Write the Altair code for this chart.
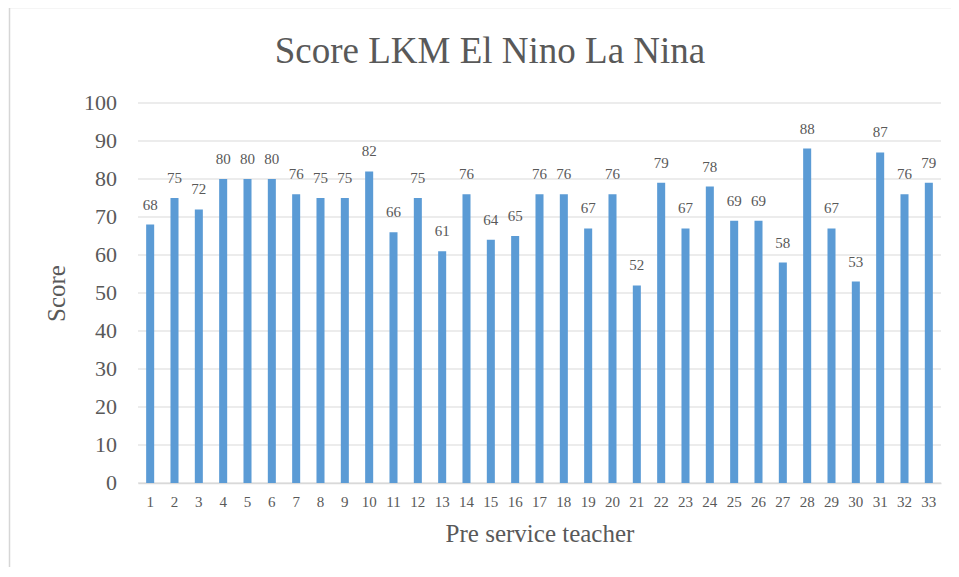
import altair as alt
import pandas as pd

teachers = list(range(1, 34))
scores = [68, 75, 72, 80, 80, 80, 76, 75, 75, 82, 66, 75, 61, 76, 64, 65, 76, 76, 67, 76,
          52, 79, 67, 78, 69, 69, 58, 88, 67, 53, 87, 76, 79]
title_text = "Score LKM El Nino La Nina"
x_title = "Pre service teacher"
y_title = "Score"
y_ticks = list(range(0, 101, 10))

df = pd.DataFrame({"teacher": teachers, "score": scores})
tick_df = pd.DataFrame({"tick": y_ticks})
FONT = "Liberation Serif"
TXT = "#595959"
W, H = 803, 380

x_enc = alt.X("teacher:O", sort=teachers,
              scale=alt.Scale(paddingInner=0.67, paddingOuter=0.335),
              axis=alt.Axis(title=x_title, labelAngle=0, labelFontSize=15, labelPadding=11,
                            titleFontSize=25, titlePadding=12, ticks=False,
                            domainColor="#d9d9d9", domainWidth=1.5, grid=False,
                            labelFont=FONT, titleFont=FONT, labelColor=TXT, titleColor=TXT,
                            titleFontWeight="normal"))
y_scale = alt.Scale(domain=[0, 100], nice=False)
y_enc = alt.Y("score:Q", scale=y_scale,
              axis=alt.Axis(title=y_title, labels=False, grid=False, ticks=False, domain=False,
                            titleFontSize=25, titlePadding=69,
                            titleFont=FONT, titleColor=TXT, titleFontWeight="normal"))

grid = alt.Chart(tick_df).mark_rule(color="#d9d9d9", strokeWidth=1).encode(
    y=alt.Y("tick:Q", scale=y_scale), x=alt.value(0), x2=alt.value(W))
tick_labels = alt.Chart(tick_df).mark_text(font=FONT, fontSize=22, color=TXT, align="right",
                                           baseline="middle").encode(
    y=alt.Y("tick:Q", scale=y_scale), x=alt.value(-21), text="tick:Q")

bars = alt.Chart(df).mark_bar(color="#5B9BD5").encode(x=x_enc, y=y_enc)
labels = alt.Chart(df).mark_text(font=FONT, fontSize=15, color=TXT, baseline="alphabetic",
                                 dy=-15).encode(x=x_enc, y=y_enc, text="score:Q")

one = pd.DataFrame({"t": [title_text]})
frame = alt.Chart(one).mark_rect(fill="white", fillOpacity=0, stroke="#d6d6d6",
                                 strokeWidth=1.5, clip=False).encode(
    x=alt.value(-128.5), x2=alt.value(W + 60), y=alt.value(-95.5), y2=alt.value(H + 150))
title = alt.Chart(one).mark_text(font=FONT, fontSize=37, color=TXT, align="center",
                                 baseline="alphabetic").encode(
    x=alt.value(352), y=alt.value(-40), text="t:N")

chart = alt.layer(frame, grid, tick_labels, bars, labels, title).properties(
    width=W, height=H,
    background="white",
    autosize=alt.AutoSizeParams(type="none"),
    padding={"left": 130, "top": 95, "right": 10, "bottom": 84},
).configure_view(stroke=None)

chart.save("out.html", embed_options={"renderer": "svg", "actions": False})
